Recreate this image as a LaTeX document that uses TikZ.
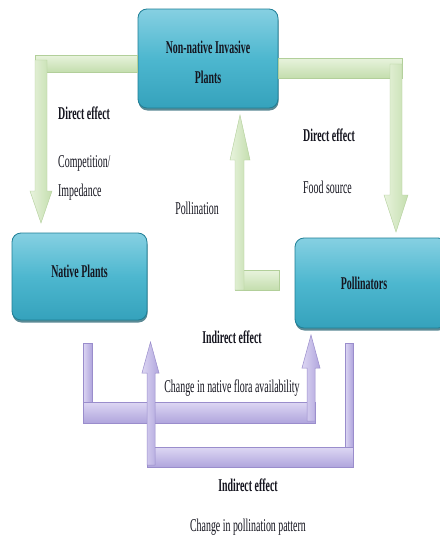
\documentclass[tikz,border=0pt]{standalone}
\usepackage{fontspec}
\setmainfont[FakeStretch=0.55]{Liberation Serif}
\usetikzlibrary{shadows}
\definecolor{boxT}{HTML}{86D0E2}
\definecolor{boxM}{HTML}{4DB7CF}
\definecolor{boxB}{HTML}{35A2BC}
\definecolor{boxD}{HTML}{1F7F96}
\definecolor{gH}{HTML}{E8F3DD}
\definecolor{gL}{HTML}{C4DEAE}
\definecolor{gD}{HTML}{B2CF9A}
\definecolor{pH}{HTML}{DDD7F3}
\definecolor{pL}{HTML}{B0A5DD}
\definecolor{pD}{HTML}{9A8DCC}
\definecolor{txt}{HTML}{15151F}
\begin{document}
\begin{tikzpicture}[x=1pt,y=-1pt,
  box/.style={rounded corners=9pt, top color=boxT, bottom color=boxB, middle color=boxM,
    draw=boxD, line width=0.8pt,
    drop shadow={shadow xshift=0.5pt, shadow yshift=-2.5pt, fill=boxD!70!black, opacity=0.7},
    text=txt, font=\fontsize{18}{22}\selectfont\bfseries, align=center, inner sep=0pt},
  gh/.style={top color=gH, bottom color=gL, draw=gD, line width=0.4pt},
  gv/.style={left color=gH, right color=gL, draw=gD, line width=0.4pt},
  ph/.style={top color=pH, bottom color=pL, draw=pD, line width=0.5pt},
  pv/.style={left color=pH, right color=pL, draw=pD, line width=0.5pt},
  lbl/.style={text=txt, font=\fontsize{18}{22}\selectfont, inner sep=0pt},
  blbl/.style={text=txt, font=\fontsize{18}{22}\selectfont\bfseries, inner sep=0pt}]
\useasboundingbox (0,0) rectangle (439,546);
\fill[white] (0,0) rectangle (439,546);

% boxes
\node[box, minimum width=140pt, minimum height=99pt] (nip) at (208,58.5)
  {\rule{0pt}{21pt}Non-native Invasive\\[8pt]Plants};
\node[box, minimum width=135pt, minimum height=87pt] (native) at (79.5,276.5)
  {Native Plants\rule[-10pt]{0pt}{0pt}};
\node[box, minimum width=152pt, minimum height=90pt] (poll) at (371,283) {\hspace*{-14pt}Pollinators};

% green left arrow (nip -> native)
\path[gh] (35,55) rectangle (nip.west |- 0,72);
\path[gv] (35,60) -- (47,60) -- (47,191) -- (52,191) -- (41,223) -- (30,191) -- (35,191) -- cycle;

% green right arrow (nip -> poll)
\path[gh] (nip.east |- 0,58) rectangle (402,78);
\path[gv] (390,64) -- (402,64) -- (402,195) -- (408,195) -- (396,232) -- (384,195) -- (390,195) -- cycle;

% middle green arrow (poll -> nip)
\path[gh] (235,270) rectangle (279,290);
\path[gv] (235,290) -- (235,160) -- (230,160) -- (240,115) -- (250,160) -- (244,160) -- (244,290) -- cycle;

% purple bracket 1 (native -> poll)
\path[pv] (83,343) rectangle (92,423);
\path[ph] (83,402) rectangle (315,423);
\path[pv] (307,421) -- (307,368) -- (302,368) -- (311,335) -- (320,368) -- (315,368) -- (315,421) -- cycle;

% purple bracket 2 (poll -> native)
\path[pv] (345,343) rectangle (353,467);
\path[ph] (147,447) rectangle (353,467);
\path[pv] (147,465) -- (147,373) -- (142,373) -- (150.5,342) -- (159,373) -- (155,373) -- (155,465) -- cycle;

% labels
\node[blbl, anchor=west] (de1) at (58,113) {Direct effect};
\node[lbl, anchor=west] (comp) at (58,163) {Competition/};
\node[lbl, anchor=west] (imp) at (58,192) {Impedance};
\node[blbl, anchor=west] (de2) at (303,135) {Direct effect};
\node[lbl, anchor=west] (food) at (303,187) {Food source};
\node[lbl] (pol) at (197,208) {Pollination};
\node[blbl] (ie1) at (232,337) {Indirect effect};
\node[lbl] (cnf) at (232,388) {Change in native flora availability};
\node[blbl] (ie2) at (248,485) {Indirect effect};
\node[lbl] (cpp) at (248,527) {Change in pollination pattern};
\end{tikzpicture}
\end{document}
